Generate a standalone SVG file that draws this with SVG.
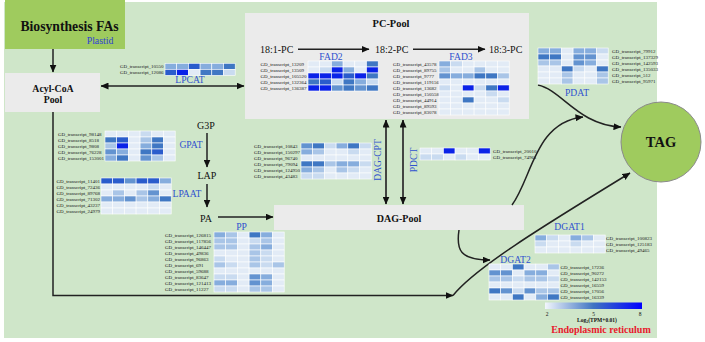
<svg xmlns="http://www.w3.org/2000/svg" width="705" height="342" viewBox="0 0 705 342">
<defs>
<style>
text{font-family:"Liberation Serif","Times New Roman",serif}
.lb{font-size:5px;fill:#1a1a1a}
.en{font-size:9.6px;fill:#2f52cf;text-anchor:middle}
.pool{fill:#ebebeb}
.bd{font-weight:bold;fill:#111;text-anchor:middle}
.mt{font-size:10px;fill:#111}
.hm rect{width:11.7px;height:6px;stroke:#fff;stroke-width:0.6}
.a{fill:#e2ebf6}.b{fill:#c9dbf0}.c{fill:#a9c5e7}.d{fill:#86addd}.e{fill:#6393d0}.f{fill:#3f77c3}.g{fill:#2a5ccc}.h{fill:#0a22e8}
.ln{fill:none;stroke:#222;stroke-width:1.5}
.lg{fill:none;stroke:#333;stroke-width:1.8}
</style>
<marker id="ah" markerUnits="userSpaceOnUse" markerWidth="8" markerHeight="7" refX="7.5" refY="3.5" orient="auto-start-reverse"><path d="M0,0 L8,3.5 L0,7 z" fill="#111"/></marker>
<linearGradient id="lgr" x1="0" x2="1" y1="0" y2="0"><stop offset="0" stop-color="#f2f6fc"/><stop offset="0.5" stop-color="#3f74c2"/><stop offset="1" stop-color="#0000ff"/></linearGradient>
</defs>
<rect x="4" y="2" width="653" height="336" fill="#cfe6c9"/>

<g id="biosynthesis">
<rect x="5" y="0" width="120" height="49" fill="#9fcb5e"/>
<text x="69.5" y="30.5" class="bd" font-size="13.7">Biosynthesis FAs</text>
<text x="86.7" y="43.5" font-size="9.8" fill="#2d3fd6">Plastid</text>
</g>
<g id="acylcoa">
<rect x="5" y="73" width="95" height="39" class="pool"/>
<text x="53" y="91.8" class="bd" font-size="9.8">Acyl-CoA</text>
<text x="53" y="102.5" class="bd" font-size="9.8">Pool</text>
</g>
<g id="pcpool">
<rect x="245" y="13" width="284" height="106" class="pool"/>
<text x="391" y="26.5" class="bd" font-size="10.4">PC-Pool</text>
<text x="260" y="53" class="mt">18:1-PC</text>
<text x="375" y="53" class="mt">18:2-PC</text>
<text x="489" y="53" class="mt">18:3-PC</text>
</g>
<g id="dagpool">
<rect x="274" y="205" width="250" height="25" class="pool"/>
<text x="399" y="222" class="bd" font-size="10">DAG-Pool</text>
</g>
<g id="tag">
<circle cx="661" cy="142" r="40" fill="#9fcb5e" stroke="#8a8a8a" stroke-width="1"/>
<text x="661" y="147" class="bd" font-size="14.5">TAG</text>
</g>
<g id="g3p"><text x="197" y="128.5" class="mt" font-size="9.8">G3P</text></g>
<g id="lap"><text x="197.5" y="178.5" class="mt" font-size="9.8">LAP</text></g>
<g id="pa"><text x="200" y="221.5" class="mt" font-size="9.8">PA</text></g>

<g id="connectors">
<path class="ln" d="M53,49 V72" stroke="#444" marker-end="url(#ah)"/>
<path class="ln" d="M101,86 H244" marker-start="url(#ah)" marker-end="url(#ah)"/>
<path class="ln" d="M298,49.3 H369" marker-end="url(#ah)"/>
<path class="ln" d="M413,49.3 H485" marker-end="url(#ah)"/>
<path class="lg" d="M386,120 V204" marker-start="url(#ah)" marker-end="url(#ah)"/>
<path class="lg" d="M403,120 V204" marker-start="url(#ah)" marker-end="url(#ah)"/>
<path class="ln" d="M207,133 V167" marker-end="url(#ah)"/>
<path class="ln" d="M207,184 V207" marker-end="url(#ah)"/>
<path class="ln" d="M218,217 H273" marker-end="url(#ah)"/>
<path class="ln" d="M53,112 V295.5 H453" stroke="#333" marker-end="url(#ah)"/>
<path class="ln" d="M453,295.5 C475,268 540,228 630,173" marker-end="url(#ah)"/>
<path class="ln" d="M459,230 C456,250 460,260 490,260" marker-end="url(#ah)"/>
<path class="ln" d="M512,205 C532,178 535,122 583,117" marker-end="url(#ah)"/>
<path class="ln" d="M538,85 C562,90 578,125 621,127" marker-end="url(#ah)"/>
</g>

<g id="lpcat" class="hm" transform="translate(165,63.3)">
<text class="lb" x="-45" y="4.7">GD_transcript_10550</text>
<text class="lb" x="-45" y="10.7">GD_transcript_12086</text>
<rect class="d" x="0" y="0"/><rect class="d" x="11.7" y="0"/><rect class="g" x="23.4" y="0"/><rect class="d" x="35.1" y="0"/><rect class="d" x="46.8" y="0"/><rect class="f" x="58.5" y="0"/>
<rect class="g" x="0" y="6"/><rect class="h" x="11.7" y="6"/><rect class="a" x="23.4" y="6"/><rect class="f" x="35.1" y="6"/><rect class="f" x="46.8" y="6"/><rect class="b" x="58.5" y="6"/>
<text class="en" x="25" y="20.2">LPCAT</text>
</g>

<g id="fad2" class="hm" transform="translate(308,61)">
<text class="en" x="23" y="-1">FAD2</text>
<text class="lb" x="-47.5" y="4.7">GD_transcript_13209</text>
<text class="lb" x="-47.5" y="10.7">GD_transcript_13509</text>
<text class="lb" x="-47.5" y="16.7">GD_transcript_105520</text>
<text class="lb" x="-47.5" y="22.7">GD_transcript_132364</text>
<text class="lb" x="-47.5" y="28.7">GD_transcript_136387</text>
<rect class="a" x="0" y="0"/><rect class="a" x="11.7" y="0"/><rect class="d" x="23.4" y="0"/><rect class="a" x="35.1" y="0"/><rect class="a" x="46.8" y="0"/><rect class="f" x="58.5" y="0"/>
<rect class="a" x="0" y="6"/><rect class="b" x="11.7" y="6"/><rect class="h" x="23.4" y="6"/><rect class="d" x="35.1" y="6"/><rect class="a" x="46.8" y="6"/><rect class="h" x="58.5" y="6"/>
<rect class="h" x="0" y="12"/><rect class="h" x="11.7" y="12"/><rect class="h" x="23.4" y="12"/><rect class="g" x="35.1" y="12"/><rect class="h" x="46.8" y="12"/><rect class="f" x="58.5" y="12"/>
<rect class="f" x="0" y="18"/><rect class="g" x="11.7" y="18"/><rect class="b" x="23.4" y="18"/><rect class="f" x="35.1" y="18"/><rect class="d" x="46.8" y="18"/><rect class="b" x="58.5" y="18"/>
<rect class="h" x="0" y="24"/><rect class="h" x="11.7" y="24"/><rect class="e" x="23.4" y="24"/><rect class="f" x="35.1" y="24"/><rect class="e" x="46.8" y="24"/><rect class="f" x="58.5" y="24"/>
</g>

<g id="fad3" class="hm" transform="translate(439,61)">
<text class="en" x="22" y="-1">FAD3</text>
<text class="lb" x="-46" y="4.7">GD_transcript_43578</text>
<text class="lb" x="-46" y="10.7">GD_transcript_89755</text>
<text class="lb" x="-46" y="16.7">GD_transcript_9777</text>
<text class="lb" x="-46" y="22.7">GD_transcript_119156</text>
<text class="lb" x="-46" y="28.7">GD_transcript_13682</text>
<text class="lb" x="-46" y="34.7">GD_transcript_150558</text>
<text class="lb" x="-46" y="40.7">GD_transcript_44914</text>
<text class="lb" x="-46" y="46.7">GD_transcript_89593</text>
<text class="lb" x="-46" y="52.7">GD_transcript_83078</text>
<rect class="d" x="0" y="0"/><rect class="b" x="11.7" y="0"/><rect class="a" x="23.4" y="0"/><rect class="a" x="35.1" y="0"/><rect class="a" x="46.8" y="0"/><rect class="a" x="58.5" y="0"/>
<rect class="c" x="0" y="6"/><rect class="a" x="11.7" y="6"/><rect class="a" x="23.4" y="6"/><rect class="c" x="35.1" y="6"/><rect class="a" x="46.8" y="6"/><rect class="a" x="58.5" y="6"/>
<rect class="e" x="0" y="12"/><rect class="d" x="11.7" y="12"/><rect class="d" x="23.4" y="12"/><rect class="f" x="35.1" y="12"/><rect class="f" x="46.8" y="12"/><rect class="c" x="58.5" y="12"/>
<rect class="a" x="0" y="18"/><rect class="a" x="11.7" y="18"/><rect class="a" x="23.4" y="18"/><rect class="a" x="35.1" y="18"/><rect class="a" x="46.8" y="18"/><rect class="a" x="58.5" y="18"/>
<rect class="b" x="0" y="24"/><rect class="a" x="11.7" y="24"/><rect class="h" x="23.4" y="24"/><rect class="b" x="35.1" y="24"/><rect class="f" x="46.8" y="24"/><rect class="h" x="58.5" y="24"/>
<rect class="a" x="0" y="30"/><rect class="a" x="11.7" y="30"/><rect class="a" x="23.4" y="30"/><rect class="a" x="35.1" y="30"/><rect class="b" x="46.8" y="30"/><rect class="a" x="58.5" y="30"/>
<rect class="a" x="0" y="36"/><rect class="a" x="11.7" y="36"/><rect class="f" x="23.4" y="36"/><rect class="a" x="35.1" y="36"/><rect class="a" x="46.8" y="36"/><rect class="b" x="58.5" y="36"/>
<rect class="a" x="0" y="42"/><rect class="a" x="11.7" y="42"/><rect class="a" x="23.4" y="42"/><rect class="a" x="35.1" y="42"/><rect class="a" x="46.8" y="42"/><rect class="a" x="58.5" y="42"/>
<rect class="a" x="0" y="48"/><rect class="a" x="11.7" y="48"/><rect class="a" x="23.4" y="48"/><rect class="a" x="35.1" y="48"/><rect class="a" x="46.8" y="48"/><rect class="a" x="58.5" y="48"/>
</g>

<g id="pdat" class="hm" transform="translate(538,48)">
<text class="en" x="39" y="48">PDAT</text>
<text class="lb" x="74" y="4.7">GD_transcript_79912</text>
<text class="lb" x="74" y="10.7">GD_transcript_137329</text>
<text class="lb" x="74" y="16.7">GD_transcript_142593</text>
<text class="lb" x="74" y="22.7">GD_transcript_135033</text>
<text class="lb" x="74" y="28.7">GD_transcript_512</text>
<text class="lb" x="74" y="34.7">GD_transcript_95971</text>
<rect class="d" x="0" y="0"/><rect class="d" x="11.7" y="0"/><rect class="a" x="23.4" y="0"/><rect class="d" x="35.1" y="0"/><rect class="d" x="46.8" y="0"/><rect class="b" x="58.5" y="0"/>
<rect class="f" x="0" y="6"/><rect class="f" x="11.7" y="6"/><rect class="a" x="23.4" y="6"/><rect class="e" x="35.1" y="6"/><rect class="e" x="46.8" y="6"/><rect class="a" x="58.5" y="6"/>
<rect class="c" x="0" y="12"/><rect class="c" x="11.7" y="12"/><rect class="a" x="23.4" y="12"/><rect class="e" x="35.1" y="12"/><rect class="d" x="46.8" y="12"/><rect class="a" x="58.5" y="12"/>
<rect class="a" x="0" y="18"/><rect class="a" x="11.7" y="18"/><rect class="f" x="23.4" y="18"/><rect class="b" x="35.1" y="18"/><rect class="a" x="46.8" y="18"/><rect class="f" x="58.5" y="18"/>
<rect class="a" x="0" y="24"/><rect class="a" x="11.7" y="24"/><rect class="c" x="23.4" y="24"/><rect class="a" x="35.1" y="24"/><rect class="a" x="46.8" y="24"/><rect class="c" x="58.5" y="24"/>
<rect class="a" x="0" y="30"/><rect class="a" x="11.7" y="30"/><rect class="c" x="23.4" y="30"/><rect class="a" x="35.1" y="30"/><rect class="a" x="46.8" y="30"/><rect class="c" x="58.5" y="30"/>
</g>

<g id="gpat" class="hm" transform="translate(105,131)">
<text class="en" x="86" y="17">GPAT</text>
<text class="lb" x="-47" y="4.7">GD_transcript_98148</text>
<text class="lb" x="-47" y="10.7">GD_transcript_8518</text>
<text class="lb" x="-47" y="16.7">GD_transcript_9808</text>
<text class="lb" x="-47" y="22.7">GD_transcript_76228</text>
<text class="lb" x="-47" y="28.7">GD_transcript_153001</text>
<rect class="a" x="0" y="0"/><rect class="a" x="11.7" y="0"/><rect class="a" x="23.4" y="0"/><rect class="b" x="35.1" y="0"/><rect class="a" x="46.8" y="0"/><rect class="a" x="58.5" y="0"/>
<rect class="f" x="0" y="6"/><rect class="g" x="11.7" y="6"/><rect class="a" x="23.4" y="6"/><rect class="c" x="35.1" y="6"/><rect class="f" x="46.8" y="6"/><rect class="a" x="58.5" y="6"/>
<rect class="c" x="0" y="12"/><rect class="h" x="11.7" y="12"/><rect class="a" x="23.4" y="12"/><rect class="d" x="35.1" y="12"/><rect class="f" x="46.8" y="12"/><rect class="a" x="58.5" y="12"/>
<rect class="e" x="0" y="18"/><rect class="d" x="11.7" y="18"/><rect class="a" x="23.4" y="18"/><rect class="f" x="35.1" y="18"/><rect class="g" x="46.8" y="18"/><rect class="a" x="58.5" y="18"/>
<rect class="d" x="0" y="24"/><rect class="f" x="11.7" y="24"/><rect class="a" x="23.4" y="24"/><rect class="e" x="35.1" y="24"/><rect class="c" x="46.8" y="24"/><rect class="a" x="58.5" y="24"/>
</g>

<g id="lpaat" class="hm" transform="translate(101,178)">
<text class="en" x="86" y="19">LPAAT</text>
<text class="lb" x="-44.5" y="4.7">GD_transcript_11401</text>
<text class="lb" x="-44.5" y="10.7">GD_transcript_72436</text>
<text class="lb" x="-44.5" y="16.7">GD_transcript_89768</text>
<text class="lb" x="-44.5" y="22.7">GD_transcript_71302</text>
<text class="lb" x="-44.5" y="28.7">GD_transcript_43237</text>
<text class="lb" x="-44.5" y="34.7">GD_transcript_24979</text>
<rect class="g" x="0" y="0"/><rect class="g" x="11.7" y="0"/><rect class="e" x="23.4" y="0"/><rect class="g" x="35.1" y="0"/><rect class="g" x="46.8" y="0"/><rect class="d" x="58.5" y="0"/>
<rect class="a" x="0" y="6"/><rect class="a" x="11.7" y="6"/><rect class="a" x="23.4" y="6"/><rect class="a" x="35.1" y="6"/><rect class="b" x="46.8" y="6"/><rect class="a" x="58.5" y="6"/>
<rect class="a" x="0" y="12"/><rect class="c" x="11.7" y="12"/><rect class="a" x="23.4" y="12"/><rect class="c" x="35.1" y="12"/><rect class="e" x="46.8" y="12"/><rect class="a" x="58.5" y="12"/>
<rect class="d" x="0" y="18"/><rect class="d" x="11.7" y="18"/><rect class="e" x="23.4" y="18"/><rect class="c" x="35.1" y="18"/><rect class="d" x="46.8" y="18"/><rect class="f" x="58.5" y="18"/>
<rect class="a" x="0" y="24"/><rect class="a" x="11.7" y="24"/><rect class="a" x="23.4" y="24"/><rect class="a" x="35.1" y="24"/><rect class="a" x="46.8" y="24"/><rect class="a" x="58.5" y="24"/>
<rect class="a" x="0" y="30"/><rect class="a" x="11.7" y="30"/><rect class="a" x="23.4" y="30"/><rect class="a" x="35.1" y="30"/><rect class="a" x="46.8" y="30"/><rect class="a" x="58.5" y="30"/>
</g>

<g id="pp" class="hm" transform="translate(214,232)">
<text class="en" x="27.5" y="-2">PP</text>
<text class="lb" x="-49" y="4.7">GD_transcript_126815</text>
<text class="lb" x="-49" y="10.7">GD_transcript_117856</text>
<text class="lb" x="-49" y="16.7">GD_transcript_146447</text>
<text class="lb" x="-49" y="22.7">GD_transcript_49836</text>
<text class="lb" x="-49" y="28.7">GD_transcript_96863</text>
<text class="lb" x="-49" y="34.7">GD_transcript_691</text>
<text class="lb" x="-49" y="40.7">GD_transcript_59688</text>
<text class="lb" x="-49" y="46.7">GD_transcript_83647</text>
<text class="lb" x="-49" y="52.7">GD_transcript_121413</text>
<text class="lb" x="-49" y="58.7">GD_transcript_11227</text>
<rect class="d" x="0" y="0"/><rect class="c" x="11.7" y="0"/><rect class="a" x="23.4" y="0"/><rect class="f" x="35.1" y="0"/><rect class="d" x="46.8" y="0"/><rect class="a" x="58.5" y="0"/>
<rect class="c" x="0" y="6"/><rect class="c" x="11.7" y="6"/><rect class="a" x="23.4" y="6"/><rect class="b" x="35.1" y="6"/><rect class="c" x="46.8" y="6"/><rect class="a" x="58.5" y="6"/>
<rect class="c" x="0" y="12"/><rect class="c" x="11.7" y="12"/><rect class="a" x="23.4" y="12"/><rect class="c" x="35.1" y="12"/><rect class="d" x="46.8" y="12"/><rect class="a" x="58.5" y="12"/>
<rect class="a" x="0" y="18"/><rect class="a" x="11.7" y="18"/><rect class="a" x="23.4" y="18"/><rect class="c" x="35.1" y="18"/><rect class="b" x="46.8" y="18"/><rect class="a" x="58.5" y="18"/>
<rect class="b" x="0" y="24"/><rect class="a" x="11.7" y="24"/><rect class="a" x="23.4" y="24"/><rect class="c" x="35.1" y="24"/><rect class="b" x="46.8" y="24"/><rect class="a" x="58.5" y="24"/>
<rect class="c" x="0" y="30"/><rect class="b" x="11.7" y="30"/><rect class="a" x="23.4" y="30"/><rect class="c" x="35.1" y="30"/><rect class="b" x="46.8" y="30"/><rect class="c" x="58.5" y="30"/>
<rect class="a" x="0" y="36"/><rect class="a" x="11.7" y="36"/><rect class="a" x="23.4" y="36"/><rect class="a" x="35.1" y="36"/><rect class="a" x="46.8" y="36"/><rect class="a" x="58.5" y="36"/>
<rect class="b" x="0" y="42"/><rect class="b" x="11.7" y="42"/><rect class="a" x="23.4" y="42"/><rect class="e" x="35.1" y="42"/><rect class="d" x="46.8" y="42"/><rect class="a" x="58.5" y="42"/>
<rect class="d" x="0" y="48"/><rect class="d" x="11.7" y="48"/><rect class="a" x="23.4" y="48"/><rect class="e" x="35.1" y="48"/><rect class="d" x="46.8" y="48"/><rect class="a" x="58.5" y="48"/>
<rect class="b" x="0" y="54"/><rect class="b" x="11.7" y="54"/><rect class="a" x="23.4" y="54"/><rect class="c" x="35.1" y="54"/><rect class="c" x="46.8" y="54"/><rect class="a" x="58.5" y="54"/>
</g>

<g id="dagcpt" class="hm" transform="translate(301,143)">
<text class="en" font-size="10" transform="translate(79.5,17) rotate(-90)">DAG-CPT</text>
<text class="lb" x="-47" y="4.7">GD_transcript_10843</text>
<text class="lb" x="-47" y="10.7">GD_transcript_150297</text>
<text class="lb" x="-47" y="16.7">GD_transcript_96740</text>
<text class="lb" x="-47" y="22.7">GD_transcript_79094</text>
<text class="lb" x="-47" y="28.7">GD_transcript_124950</text>
<text class="lb" x="-47" y="34.7">GD_transcript_43483</text>
<rect class="e" x="0" y="0"/><rect class="f" x="11.7" y="0"/><rect class="b" x="23.4" y="0"/><rect class="d" x="35.1" y="0"/><rect class="f" x="46.8" y="0"/><rect class="b" x="58.5" y="0"/>
<rect class="d" x="0" y="6"/><rect class="c" x="11.7" y="6"/><rect class="a" x="23.4" y="6"/><rect class="a" x="35.1" y="6"/><rect class="b" x="46.8" y="6"/><rect class="a" x="58.5" y="6"/>
<rect class="a" x="0" y="12"/><rect class="a" x="11.7" y="12"/><rect class="a" x="23.4" y="12"/><rect class="a" x="35.1" y="12"/><rect class="a" x="46.8" y="12"/><rect class="a" x="58.5" y="12"/>
<rect class="f" x="0" y="18"/><rect class="f" x="11.7" y="18"/><rect class="c" x="23.4" y="18"/><rect class="d" x="35.1" y="18"/><rect class="d" x="46.8" y="18"/><rect class="b" x="58.5" y="18"/>
<rect class="d" x="0" y="24"/><rect class="c" x="11.7" y="24"/><rect class="a" x="23.4" y="24"/><rect class="c" x="35.1" y="24"/><rect class="b" x="46.8" y="24"/><rect class="a" x="58.5" y="24"/>
<rect class="b" x="0" y="30"/><rect class="b" x="11.7" y="30"/><rect class="a" x="23.4" y="30"/><rect class="a" x="35.1" y="30"/><rect class="a" x="46.8" y="30"/><rect class="a" x="58.5" y="30"/>
</g>

<g id="pdct" class="hm" transform="translate(420,148)">
<text class="en" font-size="9.4" transform="translate(-3,12) rotate(-90)">PDCT</text>
<text class="lb" x="73" y="4.7">GD_transcript_20010</text>
<text class="lb" x="73" y="10.7">GD_transcript_74961</text>
<rect class="a" x="0" y="0"/><rect class="a" x="11.7" y="0"/><rect class="h" x="23.4" y="0"/><rect class="a" x="35.1" y="0"/><rect class="a" x="46.8" y="0"/><rect class="h" x="58.5" y="0"/>
<rect class="b" x="0" y="6"/><rect class="b" x="11.7" y="6"/><rect class="a" x="23.4" y="6"/><rect class="b" x="35.1" y="6"/><rect class="a" x="46.8" y="6"/><rect class="a" x="58.5" y="6"/>
</g>

<g id="dgat1" class="hm" transform="translate(535,235)">
<text class="en" font-size="10" x="34.5" y="-5">DGAT1</text>
<text class="lb" x="71" y="4.7">GD_transcript_100823</text>
<text class="lb" x="71" y="10.7">GD_transcript_125183</text>
<text class="lb" x="71" y="16.7">GD_transcript_49465</text>
<rect class="d" x="0" y="0"/><rect class="b" x="11.7" y="0"/><rect class="a" x="23.4" y="0"/><rect class="d" x="35.1" y="0"/><rect class="c" x="46.8" y="0"/><rect class="a" x="58.5" y="0"/>
<rect class="b" x="0" y="6"/><rect class="a" x="11.7" y="6"/><rect class="a" x="23.4" y="6"/><rect class="b" x="35.1" y="6"/><rect class="a" x="46.8" y="6"/><rect class="a" x="58.5" y="6"/>
<rect class="a" x="0" y="12"/><rect class="a" x="11.7" y="12"/><rect class="a" x="23.4" y="12"/><rect class="a" x="35.1" y="12"/><rect class="a" x="46.8" y="12"/><rect class="a" x="58.5" y="12"/>
</g>

<g id="dgat2" class="hm" transform="translate(489,264)">
<text class="en" font-size="10" x="26.5" y="-1">DGAT2</text>
<text class="lb" x="71.5" y="4.7">GD_transcript_17236</text>
<text class="lb" x="71.5" y="10.7">GD_transcript_90272</text>
<text class="lb" x="71.5" y="16.7">GD_transcript_142153</text>
<text class="lb" x="71.5" y="22.7">GD_transcript_16559</text>
<text class="lb" x="71.5" y="28.7">GD_transcript_17056</text>
<text class="lb" x="71.5" y="34.7">GD_transcript_16339</text>
<rect class="a" x="0" y="0"/><rect class="a" x="11.7" y="0"/><rect class="f" x="23.4" y="0"/><rect class="a" x="35.1" y="0"/><rect class="a" x="46.8" y="0"/><rect class="c" x="58.5" y="0"/>
<rect class="e" x="0" y="6"/><rect class="e" x="11.7" y="6"/><rect class="a" x="23.4" y="6"/><rect class="d" x="35.1" y="6"/><rect class="d" x="46.8" y="6"/><rect class="a" x="58.5" y="6"/>
<rect class="c" x="0" y="12"/><rect class="c" x="11.7" y="12"/><rect class="b" x="23.4" y="12"/><rect class="c" x="35.1" y="12"/><rect class="c" x="46.8" y="12"/><rect class="b" x="58.5" y="12"/>
<rect class="a" x="0" y="18"/><rect class="a" x="11.7" y="18"/><rect class="a" x="23.4" y="18"/><rect class="a" x="35.1" y="18"/><rect class="a" x="46.8" y="18"/><rect class="a" x="58.5" y="18"/>
<rect class="f" x="0" y="24"/><rect class="e" x="11.7" y="24"/><rect class="b" x="23.4" y="24"/><rect class="e" x="35.1" y="24"/><rect class="c" x="46.8" y="24"/><rect class="c" x="58.5" y="24"/>
<rect class="a" x="0" y="30"/><rect class="a" x="11.7" y="30"/><rect class="f" x="23.4" y="30"/><rect class="a" x="35.1" y="30"/><rect class="d" x="46.8" y="30"/><rect class="f" x="58.5" y="30"/>
</g>

<g id="legend">
<rect x="545" y="302.5" width="97" height="6.5" fill="url(#lgr)"/>
<text x="547" y="315.5" font-size="5.5" text-anchor="middle" fill="#111">2</text>
<text x="593.5" y="315.5" font-size="5.5" text-anchor="middle" fill="#111">5</text>
<text x="640" y="315.5" font-size="5.5" text-anchor="middle" fill="#111">8</text>
<text x="597" y="321.8" font-size="5.5" font-weight="bold" text-anchor="middle" fill="#111">Log<tspan font-size="4" dy="1.2">2</tspan><tspan dy="-1.2">(TPM+0.01)</tspan></text>
<text x="601" y="333" font-size="10" font-weight="bold" text-anchor="middle" fill="#e8192c">Endoplasmic reticulum</text>
</g>
</svg>
